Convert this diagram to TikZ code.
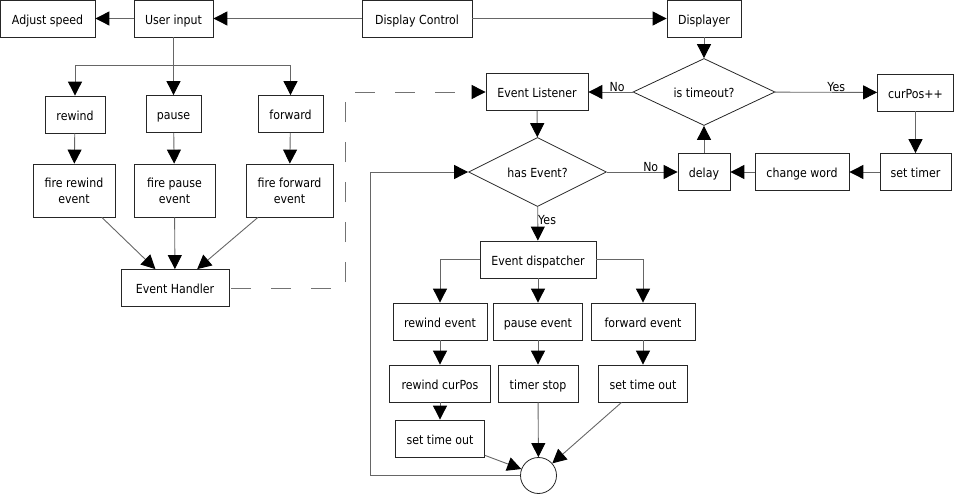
\documentclass[tikz,border=0pt]{standalone}
\usepackage{fontspec}
\setmainfont{DejaVu Sans}[FakeStretch=0.88]
\usetikzlibrary{positioning,shapes.geometric,arrows.meta}

\begin{document}
\begin{tikzpicture}[x=1pt,y=-1pt,font=\fontsize{12.5}{16}\selectfont,
		box/.style={draw=black!85,line width=0.8pt,minimum height=37pt,inner sep=2pt,align=center},
		block/.style={box,text height=12pt,text depth=0pt},
		decision/.style={diamond,draw=black!85,line width=0.8pt,aspect=2.1,inner sep=0pt,text height=12pt,text depth=0pt},
		flow/.style={draw=black!60,line width=0.9pt,-{Triangle[length=14pt,width=14pt,color=black]}},
		link/.style={draw=black!60,line width=0.9pt},
		lbl/.style={inner sep=0pt,text depth=0pt}]
		\useasboundingbox (0,0) rectangle (954,494);
		\node[block,minimum width=95pt] (adj) at (47.5,18.5) {Adjust speed};
		\node[block,minimum width=79pt] (uin) at (173.5,18.5) {User input};
		\node[block,minimum width=110pt] (dctl) at (417,18.5) {Display Control};
		\node[block,minimum width=74pt] (disp) at (704,18.5) {Displayer};
		\node[block,minimum width=60pt] (rew) at (75,114.5) {rewind};
		\node[block,minimum width=55pt] (pau) at (173.5,114) {pause};
		\node[block,minimum width=65pt] (fwd) at (290.5,114) {forward};
		\node[box,minimum width=82pt,minimum height=53pt] (frew) at (74,190.5) {fire rewind\\event};
		\node[box,minimum width=81pt,minimum height=53pt] (fpau) at (174.5,190.5) {fire pause\\event};
		\node[box,minimum width=87pt,minimum height=53pt] (ffwd) at (289.5,190.5) {fire forward\\event};
		\node[block,minimum width=108pt] (ehand) at (175,288) {Event Handler};
		\node[block,minimum width=102pt] (elis) at (537,92) {Event Listener};
		\node[decision,minimum width=142pt,minimum height=67pt] (tout) at (704,92) {is timeout?};
		\node[block,minimum width=76pt] (cpos) at (915.5,92.5) {curPos++};
		\node[block,minimum width=71pt] (stim) at (915.5,172) {set timer};
		\node[block,minimum width=94pt] (cwrd) at (802,172) {change word};
		\node[block,minimum width=52pt] (dly) at (704,172) {delay};
		\node[decision,minimum width=138pt,minimum height=69pt] (hev) at (537.5,172) {has Event?};
		\node[block,minimum width=116pt] (edisp) at (538,259.5) {Event dispatcher};
		\node[block,minimum width=94pt] (rev) at (440,321.5) {rewind event};
		\node[block,minimum width=89pt] (pev) at (538,321.5) {pause event};
		\node[block,minimum width=104pt] (fev) at (643,321.5) {forward event};
		\node[block,minimum width=101pt] (rcur) at (440,383.5) {rewind curPos};
		\node[block,minimum width=80pt] (tstop) at (538,383.5) {timer stop};
		\node[block,minimum width=89pt] (sto2) at (643,383.5) {set time out};
		\node[block,minimum width=89pt] (sto1) at (440,438.5) {set time out};
		\node[circle,draw=black!85,line width=0.8pt,minimum size=36pt,inner sep=0pt] (join) at (538.5,475.5) {};
		\coordinate (ubr) at (173.5,65);
		\coordinate (dk) at (345.5,288);
		\coordinate (lp) at (370,475.5);
		
		\path[flow]
		(dctl) edge (uin)
		(uin) edge (adj)
		(dctl) edge (disp)
		(rew) edge (frew)
		(pau) edge (fpau)
		(fwd) edge (ffwd)
		(frew) edge (ehand)
		(fpau) edge (ehand)
		(ffwd) edge (ehand)
		(disp) edge (tout)
		(tout) edge node [above,lbl,pos=0.35] {No} (elis)
		(tout) edge node [above,lbl,pos=0.6] {Yes} (cpos)
		(cpos) edge (stim)
		(stim) edge (cwrd)
		(cwrd) edge (dly)
		(dly) edge (tout)
		(elis) edge (hev)
		(hev) edge node [above,lbl,pos=0.62] {No} (dly)
		(hev) edge node [right,lbl,pos=0.4] {Yes} (edisp)
		(edisp) edge (pev)
		(rev) edge (rcur)
		(rcur) edge (sto1)
		(pev) edge (tstop)
		(fev) edge (sto2)
		(sto1) edge (join)
		(tstop) edge (join)
		(sto2) edge (join);
		\draw[link] (uin) -- (ubr);
		\draw[flow] (ubr) -| (rew.north);
		\draw[flow] (ubr) -- (pau);
		\draw[flow] (ubr) -| (fwd.north);
		\draw[flow] (edisp.west) -| (rev.north);
		\draw[flow] (edisp.east) -| (fev.north);
		\draw[flow] (join.west) -- (lp) |- (hev.west);
		\draw[flow,draw=black!55,dash pattern=on 20pt off 20pt,dash phase=38pt] (ehand.east) -- (dk) |- (elis.west);
	\end{tikzpicture}
\end{document}
